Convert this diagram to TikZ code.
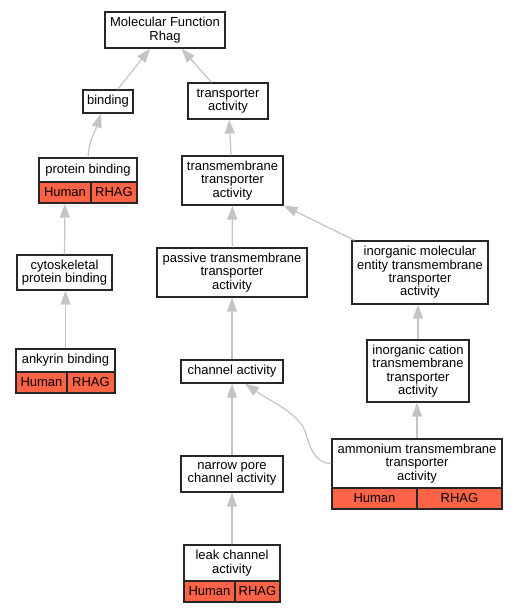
\documentclass[tikz,border=0pt]{standalone}
\usepackage{fontspec}
\setmainfont{Liberation Sans}
\usetikzlibrary{arrows.meta, positioning}

\definecolor{hitred}{HTML}{FF6347}
\definecolor{linkgray}{HTML}{C4C4C4}

\tikzset{
  term/.style={draw=black!85, fill=white, line width=1.2pt, align=center,
    inner sep=0pt, font=\fontsize{13}{13.3}\selectfont},
  hit/.style={term, fill=hitred, minimum height=21pt},
  link/.style={draw=linkgray, line width=1.2pt,
    -{Triangle[length=14pt, width=10pt]}}
}

\begin{document}
\begin{tikzpicture}[x=1pt, y=1pt]
  \useasboundingbox (0,0) rectangle (516,613);

  % --- terms ---
  \node[term, minimum width=120pt, minimum height=36pt] (mf) at (165,583) {Molecular Function\\Rhag};
  \node[term, minimum width=50pt, minimum height=23pt] (binding) at (108,511.5) {binding};
  \node[term, minimum width=80pt, minimum height=36pt] (transp) at (228,512) {transporter\\activity};

  \node[term, minimum width=98pt, minimum height=24pt] (protbind) at (88,443) {protein binding};
  \node[hit, minimum width=52pt] (protbind-human) at (65,420.5) {Human};
  \node[hit, minimum width=46pt] (protbind-rhag) at (114,420.5) {RHAG};

  \node[term, minimum width=101pt, minimum height=49pt] (tmtransp) at (232.5,432.5) {transmembrane\\transporter\\activity};
  \node[term, minimum width=95pt, minimum height=35pt] (cytosk) at (64.5,340.5) {cytoskeletal\\protein binding};
  \node[term, minimum width=150pt, minimum height=49pt] (passive) at (232,340.5) {passive transmembrane\\transporter\\activity};
  \node[term, minimum width=136pt, minimum height=63pt] (inorgmol) at (420,340.5) {inorganic molecular\\entity transmembrane\\transporter\\activity};

  \node[term, minimum width=99pt, minimum height=23pt] (ankyrin) at (65.5,252.5) {ankyrin binding};
  \node[hit, minimum width=51pt] (ankyrin-human) at (41.5,230.5) {Human};
  \node[hit, minimum width=48pt] (ankyrin-rhag) at (91,230.5) {RHAG};

  \node[term, minimum width=102pt, minimum height=23pt] (channel) at (232,241.5) {channel activity};
  \node[term, minimum width=102pt, minimum height=62pt] (inorgcat) at (418,242) {inorganic cation\\transmembrane\\transporter\\activity};

  \node[term, minimum width=170pt, minimum height=49pt] (ammonium) at (417,149.5) {ammonium transmembrane\\transporter\\activity};
  \node[hit, minimum width=85pt] (ammonium-human) at (374.5,114.5) {Human};
  \node[hit, minimum width=85pt] (ammonium-rhag) at (459.5,114.5) {RHAG};

  \node[term, minimum width=102pt, minimum height=36pt] (narrow) at (232,139) {narrow pore\\channel activity};

  \node[term, minimum width=96pt, minimum height=36pt] (leak) at (232,50) {leak channel\\activity};
  \node[hit, minimum width=51pt] (leak-human) at (209.5,21.5) {Human};
  \node[hit, minimum width=45pt] (leak-rhag) at (257.5,21.5) {RHAG};

  % --- is_a links ---
  \draw[link] (binding) -- (mf);
  \draw[link] (transp) -- (mf);
  \draw[link] (protbind.north) to[out=87, in=-108] ([xshift=-7pt]binding.south);
  \draw[link] (tmtransp) -- (transp);
  \draw[link] (cytosk.north) -- (protbind-human.south);
  \draw[link] (ankyrin.north) -- (ankyrin.north |- cytosk.south);
  \draw[link] (passive) -- (tmtransp);
  \draw[link] (inorgmol) -- (tmtransp);
  \draw[link] (inorgcat.north) -- (inorgcat.north |- inorgmol.south);
  \draw[link] (channel) -- (passive);
  \draw[link] (ammonium.west) .. controls (315,149.5) and (310,165) .. (305,182)
    .. controls (298,200) and (270,212) .. ([xshift=13pt]channel.south);
  \draw[link] (ammonium.north) -- (ammonium.north |- inorgcat.south);
  \draw[link] (narrow) -- (channel);
  \draw[link] (leak) -- (narrow);

\end{tikzpicture}
\end{document}
